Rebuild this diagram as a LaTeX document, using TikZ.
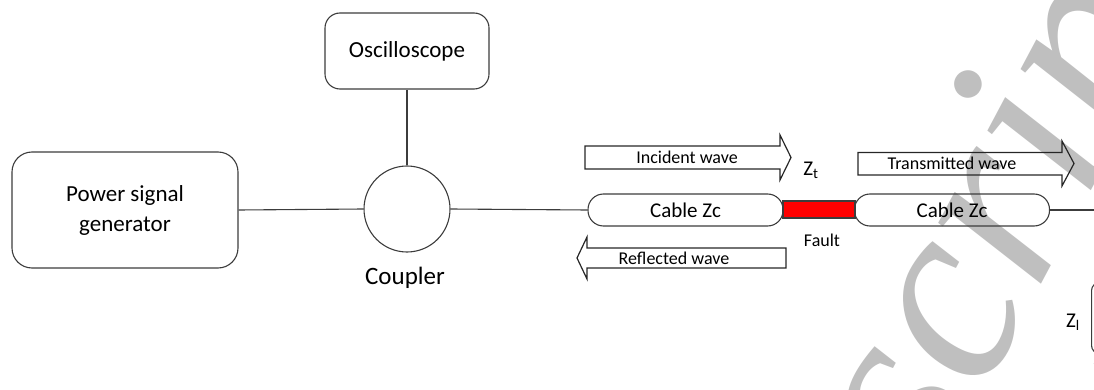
\documentclass[tikz,border=0pt]{standalone}
\usepackage{fontspec}
\setmainfont{Carlito}
\newfontfamily\wmfont{Liberation Serif}
\definecolor{wmgray}{RGB}{191,191,191}
\definecolor{linegray}{RGB}{60,60,60}
\begin{document}
\begin{tikzpicture}[x=1pt,y=-1pt,line width=1.1pt,
  wm/.style={text=wmgray,font=\wmfont\itshape\fontsize{260}{260}\selectfont,inner sep=0pt},
  roundbox/.style={draw=linegray,inner sep=0pt,align=center},
  cable/.style={draw=linegray,rounded corners=15.5pt,minimum width=195pt,minimum height=32pt,inner sep=0pt,font=\fontsize{21}{21}\selectfont},
  wire/.style={draw=linegray},
  blockarrow/.style={draw=black!85,line width=1.2pt},
  lbl/.style={font=\fontsize{18}{18}\selectfont,inner sep=0pt},
  zlbl/.style={font=\fontsize{21}{21}\selectfont,inner sep=0pt}]
\useasboundingbox (0,0) rectangle (1094,390);
\clip (0,0) rectangle (1094,390);
% watermark
\node[wm,anchor=base west,rotate=62] (wm) at (935,485) {script};
% main blocks
\node[roundbox,rounded corners=20pt,minimum width=226pt,minimum height=116pt,font=\fontsize{23}{30}\selectfont] (gen) at (125,210) {Power signal\\generator};
\node[roundbox,rounded corners=15pt,minimum width=164pt,minimum height=76pt,font=\fontsize{23}{23}\selectfont] (osc) at (407,51) {Oscilloscope};
\node[draw=linegray,circle,minimum size=86pt,inner sep=0pt] (cpl) at (407,209) {};
\node[font=\fontsize{25}{25}\selectfont] (cpllbl) at (405,278) {Coupler};
\node[cable] (cab1) at (685.5,210) {Cable Zc};
\node[draw=linegray,fill=red,minimum width=72pt,minimum height=17pt,inner sep=0pt] (fault) at (819,209.5) {};
\node[cable] (cab2) at (952,210) {Cable Zc};
\node[lbl] (faultlbl) at (822,240) {Fault};
\node[zlbl] (zt) at (811,170) {Z\textsubscript{t}};
\node[zlbl] (zl) at (1073,322) {Z\textsubscript{l}};
\node[draw=linegray,rounded corners=8pt,minimum width=50pt,minimum height=71pt,anchor=north west] (load) at (1091,282) {};
\node[lbl] (vlbl) at (1099,370) {V};
\coordinate (rend) at (1094,210);
% connectors
\draw[wire] (gen.east) -- (cpl.west);
\draw[wire] (osc.south) -- (cpl.north);
\draw[wire] (cpl.east) -- (cab1.west);
\draw[wire] (cab2.east) -- (rend);
% wave arrows
\draw[blockarrow] (585,146) -- (780,146) -- (780,135) -- (791,157.5) -- (780,180) -- (780,169) -- (585,169) -- cycle;
\node[lbl] (inc) at (687,157) {Incident wave};
\draw[blockarrow] (858,152.5) -- (1062,152.5) -- (1062,141) -- (1074,163.5) -- (1062,186) -- (1062,175) -- (858,175) -- cycle;
\node[lbl] (trans) at (952,163) {Transmitted wave};
\draw[blockarrow] (786,248) -- (587,248) -- (587,237) -- (577,258) -- (587,279) -- (587,268) -- (786,268) -- cycle;
\node[lbl] (refl) at (674,258) {Reflected wave};
\end{tikzpicture}
\end{document}
